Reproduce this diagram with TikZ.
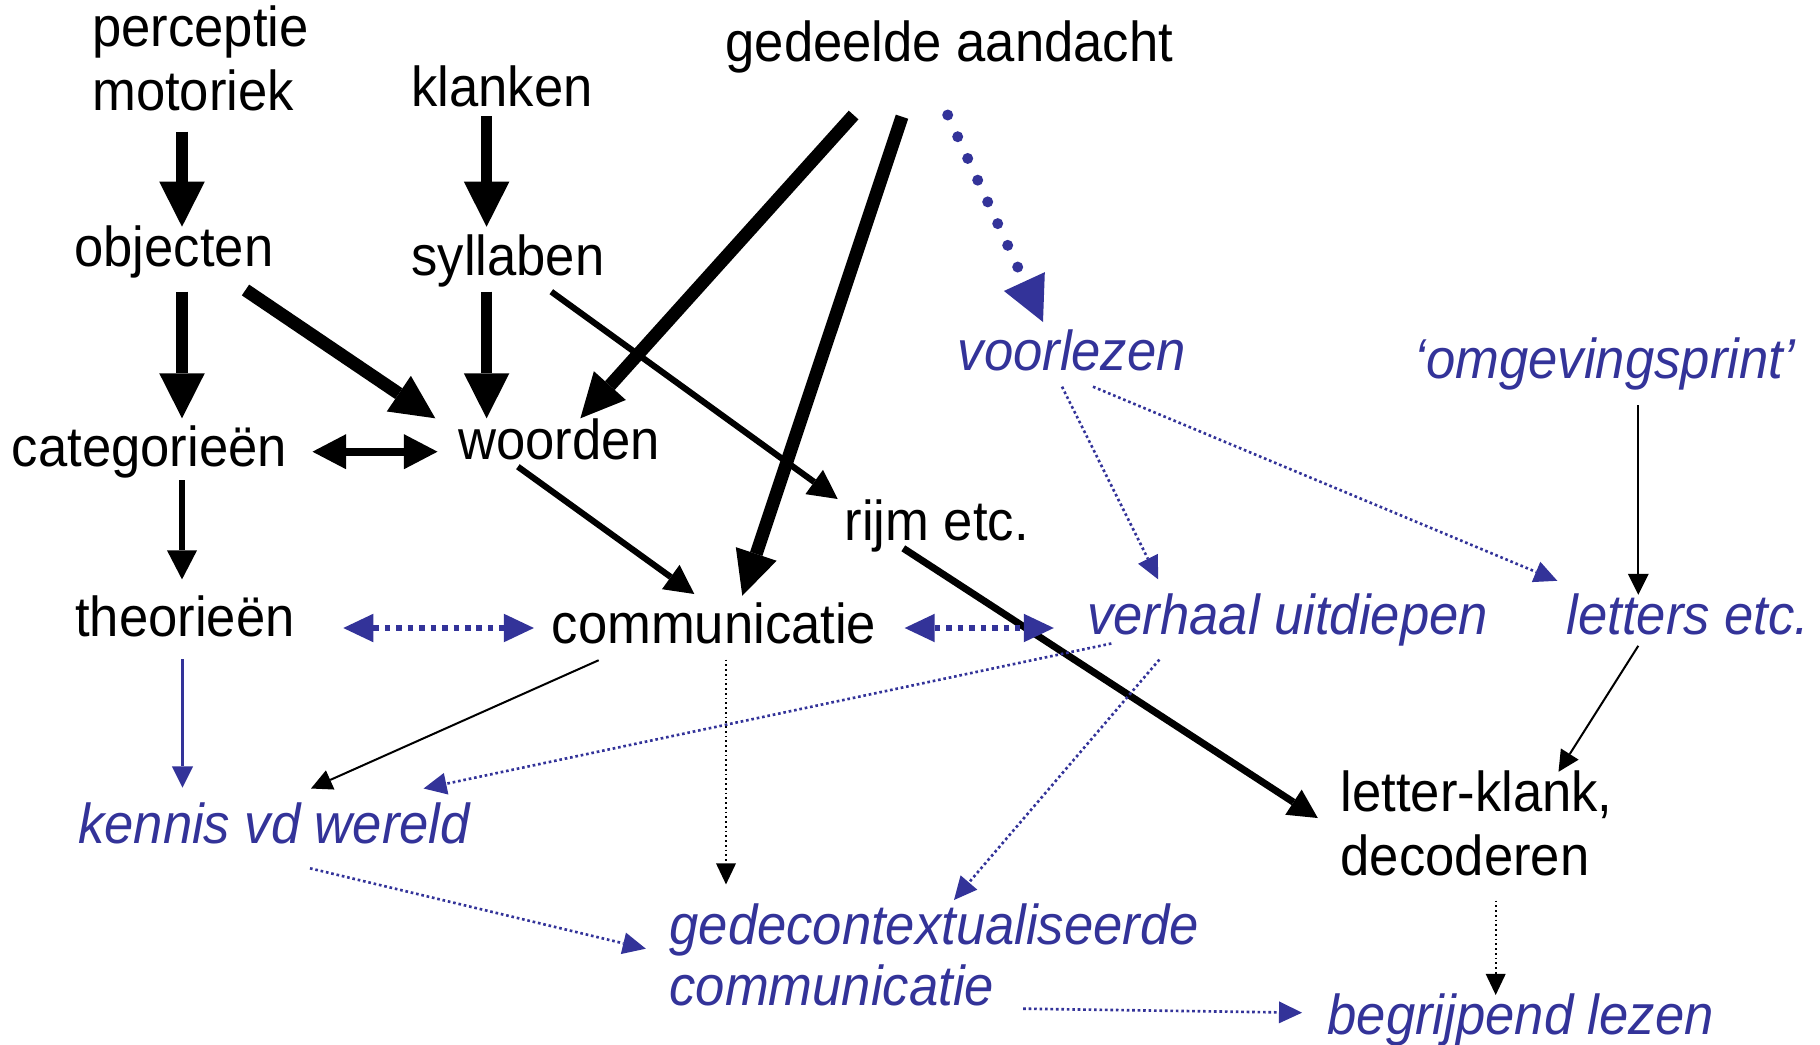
\documentclass[tikz,border=0pt]{standalone}
\usepackage{fontspec}
\setmainfont{Liberation Sans}[FakeStretch=0.935]
\usetikzlibrary{arrows.meta}
\definecolor{vblue}{RGB}{51,51,153}
\begin{document}
\begin{tikzpicture}[x=0.01cm, y=-0.01cm,
  lbl/.style={anchor=base west, inner sep=0pt, font=\fontsize{16}{18}\selectfont},
  blbl/.style={anchor=base west, inner sep=0pt, text=vblue, font=\fontsize{16}{18}\selectfont\itshape},
  thickA/.style={line width=3.13pt, -{Triangle[length=0.45cm,width=0.455cm,line width=0pt]}},
  vthickA/.style={line width=3.7pt, -{Triangle[length=0.44cm,width=0.43cm,line width=0pt]}},
  dblA/.style={line width=2.28pt, {Triangle[length=0.335cm,width=0.35cm,line width=0pt]}-{Triangle[length=0.335cm,width=0.35cm,line width=0pt]}},
  medA/.style={line width=1.75pt, -{Triangle[length=0.29cm,width=0.30cm,line width=0pt]}},
  thinA/.style={line width=0.57pt, -{Triangle[length=0.21cm,width=0.21cm,line width=0pt]}},
  dotA/.style={vblue, line width=0.75pt, dash pattern=on 0.75pt off 0.8pt, -{Triangle[length=0.23cm,width=0.22cm,line width=0pt]}},
  kdotA/.style={line width=0.5pt, dash pattern=on 0.5pt off 0.85pt, -{Triangle[length=0.21cm,width=0.20cm,line width=0pt]}},
  bigdotA/.style={vblue, line width=3.13pt, line cap=round, dash pattern=on 0pt off 6.8pt, -{Triangle[length=0.445cm,width=0.45cm,line width=0pt]}},
  dbldotA/.style={vblue, line width=1.85pt, dash pattern=on 1.56pt off 1.7pt, {Triangle[length=0.30cm,width=0.285cm,line width=0pt]}-{Triangle[length=0.30cm,width=0.285cm,line width=0pt]}}
]
\useasboundingbox (0,0) rectangle (1820,1045);

% texts
\node[lbl] (perc) at (91.5,46.7) {perceptie};
\node[lbl] (mot) at (91.5,110) {motoriek};
\node[lbl] (klank) at (410.7,106.7) {klanken};
\node[lbl] (ged) at (725,61.7) {gedeelde aandacht};
\node[lbl] (obj) at (73.7,266.7) {objecten};
\node[lbl] (syl) at (410.7,275) {syllaben};
\node[lbl] (cat) at (11.2,466.7) {categorieën};
\node[lbl] (woord) at (457.6,459.3) {woorden};
\node[blbl] (voor) at (957,370) {voorlezen};
\node[blbl] (omg) at (1414,378) {‘omgevingsprint’};
\node[lbl] (rijm) at (844,540) {rijm etc.};
\node[lbl] (theo) at (74.6,636) {theorieën};
\node[lbl] (comm) at (551,643) {communicatie};
\node[blbl] (verh) at (1086.6,634.5) {verhaal uitdiepen};
\node[blbl] (lett) at (1566,634.5) {letters etc.};
\node[blbl] (kennis) at (77.5,843) {kennis vd wereld};
\node[lbl] (lk1) at (1340,811) {letter-klank,};
\node[lbl] (lk2) at (1340,875.5) {decoderen};
\node[blbl] (gdc1) at (668.8,944.3) {gedecontextualiseerde};
\node[blbl] (gdc2) at (668.8,1005.2) {communicatie};
\node[blbl] (begr) at (1327,1034) {begrijpend lezen};

% connector end points
\coordinate (perc-o) at (182,131.7);   \coordinate (obj-i) at (182,226.7);
\coordinate (klank-o) at (486.6,116);  \coordinate (syl-i) at (486.6,226.7);
\coordinate (obj-o1) at (182,291.7);   \coordinate (cat-i) at (182,418.3);
\coordinate (syl-o1) at (486.6,291.7); \coordinate (woord-i1) at (486.6,418.3);
\coordinate (obj-o2) at (245.5,290);   \coordinate (woord-i2) at (435.3,418.3);
\coordinate (ged-o1) at (853.6,115);   \coordinate (woord-i3) at (580.4,418.3);
\coordinate (ged-o2) at (902,116.7);   \coordinate (comm-i1) at (742.3,595.7);
\coordinate (ged-o3) at (947.7,115);   \coordinate (voor-i) at (1043,322);
\coordinate (cat-r) at (312.5,451.7);  \coordinate (woord-l) at (437.5,451.7);
\coordinate (syl-o2) at (551.3,291.7); \coordinate (rijm-i) at (837.7,499);
\coordinate (woord-o) at (517.9,466.7); \coordinate (comm-i2) at (694.3,594);
\coordinate (cat-o) at (182,480);      \coordinate (theo-i) at (182,579.4);
\coordinate (rijm-o) at (903.3,548.3); \coordinate (lk-i1) at (1317.8,818);
\coordinate (voor-o1) at (1062,386.7); \coordinate (verh-i) at (1158.2,579.4);
\coordinate (voor-o2) at (1093,386.7); \coordinate (lett-i1) at (1557.3,580.8);
\coordinate (omg-o) at (1638.3,405);   \coordinate (lett-i2) at (1638.3,594.8);
\coordinate (theo-r) at (343.3,628);   \coordinate (comm-l) at (533.9,628);
\coordinate (comm-r) at (904.7,628);   \coordinate (verh-l) at (1053.8,628);
\coordinate (theo-o) at (182.5,659.2); \coordinate (kennis-i1) at (182.5,787.5);
\coordinate (comm-o1) at (598.7,660.2); \coordinate (kennis-i2) at (311,788.5);
\coordinate (verh-o1) at (1111.3,643.5); \coordinate (kennis-i3) at (423.6,788.5);
\coordinate (comm-o2) at (726,659.6);  \coordinate (gdc-i1) at (726,884.4);
\coordinate (verh-o2) at (1159.4,659.6); \coordinate (gdc-i2) at (954,900);
\coordinate (lett-o) at (1638.3,645.8); \coordinate (lk-i2) at (1558.5,771.8);
\coordinate (kennis-o) at (310,868.3); \coordinate (gdc-i3) at (645.8,948.7);
\coordinate (lk-o) at (1495.7,900.7);  \coordinate (begr-i1) at (1495.7,995);
\coordinate (gdc-o) at (1023.2,1008.7); \coordinate (begr-i2) at (1302,1012.7);

% connectors
\draw[thickA] (perc-o) -- (obj-i);
\draw[thickA] (klank-o) -- (syl-i);
\draw[thickA] (obj-o1) -- (cat-i);
\draw[thickA] (syl-o1) -- (woord-i1);
\draw[vthickA] (obj-o2) -- (woord-i2);
\draw[vthickA] (ged-o1) -- (woord-i3);
\draw[vthickA] (ged-o2) -- (comm-i1);
\draw[bigdotA] (ged-o3) -- (voor-i);
\draw[dblA] (cat-r) -- (woord-l);
\draw[medA] (syl-o2) -- (rijm-i);
\draw[medA] (woord-o) -- (comm-i2);
\draw[medA, line width=1.45pt] (cat-o) -- (theo-i);
\draw[medA, line width=2pt] (rijm-o) -- (lk-i1);
\draw[dotA] (voor-o1) -- (verh-i);
\draw[dotA] (voor-o2) -- (lett-i1);
\draw[thinA] (omg-o) -- (lett-i2);
\draw[dbldotA] (theo-r) -- (comm-l);
\draw[dbldotA] (comm-r) -- (verh-l);
\draw[thinA, vblue] (theo-o) -- (kennis-i1);
\draw[thinA] (comm-o1) -- (kennis-i2);
\draw[dotA] (verh-o1) -- (kennis-i3);
\draw[kdotA] (comm-o2) -- (gdc-i1);
\draw[dotA] (verh-o2) -- (gdc-i2);
\draw[thinA] (lett-o) -- (lk-i2);
\draw[dotA] (kennis-o) -- (gdc-i3);
\draw[kdotA, line width=0.6pt] (lk-o) -- (begr-i1);
\draw[dotA] (gdc-o) -- (begr-i2);
\end{tikzpicture}
\end{document}
